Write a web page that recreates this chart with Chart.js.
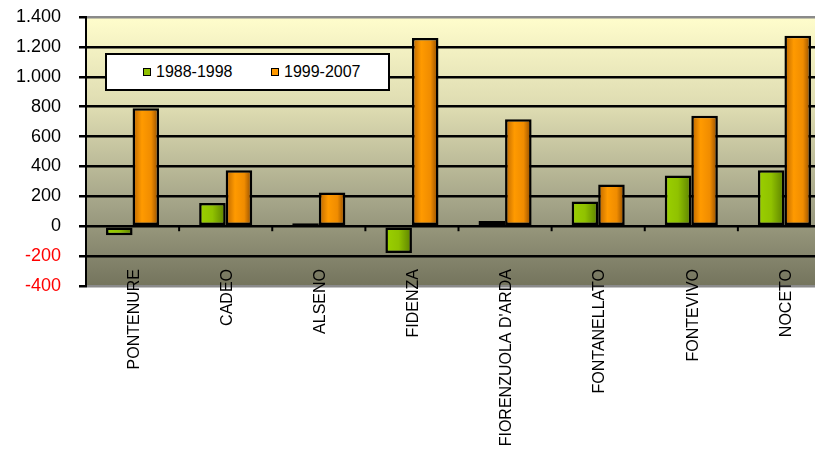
<!DOCTYPE html>
<html>
<head>
<meta charset="utf-8">
<script src="https://cdn.jsdelivr.net/npm/chart.js@4"></script>
<style>
  html, body { margin: 0; padding: 0; background: #fff; overflow: hidden; }
  #wrap { position: relative; width: 831px; height: 452px; }
  #legend {
    position: absolute; left: 105px; top: 53px; width: 281px; height: 34px;
    background: #fff; border: 2px solid #000;
    font: 16px "Liberation Sans", Arial, sans-serif; color: #000;
  }
  #legend span { position: absolute; top: 8px; }
  #legend i { position: absolute; top: 13px; width: 6px; height: 6px; border: 1px solid #000; }
</style>
</head>
<body>
<div id="wrap">
  <canvas id="myChart" width="831" height="452"></canvas>
  <div id="legend">
    <i style="left:36px;background:#8fc000"></i><span style="left:49px">1988-1998</span>
    <i style="left:164px;background:#ff9900"></i><span style="left:177px">1999-2007</span>
  </div>
</div>
<script>
var labels = ["PONTENURE", "CADEO", "ALSENO", "FIDENZA", "FIORENZUOLA D'ARDA", "FONTANELLATO", "FONTEVIVO", "NOCETO"];
var seriesNames = ["1988-1998", "1999-2007"];
var values8898 = [-60, 155, 20, -180, 35, 165, 340, 375];
var values9907 = [790, 375, 225, 1260, 715, 280, 740, 1275];
var yMin = -400, yMax = 1400, yStep = 200;

var CAT_PCT = 0.57;

function fmt(v) {
  var s = Math.abs(v).toString().replace(/\B(?=(\d{3})+(?!\d))/g, '.');
  return (v < 0 ? '-' : '') + s;
}

// horizontal gradient for each bar, placed from the category scale
function barFill(stops) {
  return function (ctx) {
    var chart = ctx.chart, xs = chart.scales.x;
    if (!xs || !chart.chartArea || xs.width === undefined) return stops[1][1];
    var c = xs.getPixelForValue(ctx.dataIndex);
    var w = xs.width / labels.length * CAT_PCT / 2;
    var x0 = ctx.datasetIndex === 0 ? c - w : c;
    var g = chart.ctx.createLinearGradient(x0, 0, x0 + w, 0);
    stops.forEach(function (s) { g.addColorStop(s[0], s[1]); });
    return g;
  };
}

var plotBg = {
  id: 'plotBg',
  beforeDraw: function (chart) {
    var a = chart.chartArea, ctx = chart.ctx;
    var g = ctx.createLinearGradient(0, a.top, 0, a.bottom);
    g.addColorStop(0, '#fffdcc');
    g.addColorStop(0.35, '#dcdab0');
    g.addColorStop(0.7, '#a3a387');
    g.addColorStop(1, '#74745d');
    ctx.save();
    ctx.fillStyle = g;
    ctx.fillRect(a.left, a.top, a.right - a.left, a.bottom - a.top);
    ctx.restore();
  }
};

// small category tick marks on the zero line
var zeroTicks = {
  id: 'zeroTicks',
  afterDatasetsDraw: function (chart) {
    var xs = chart.scales.x, ys = chart.scales.y, ctx = chart.ctx;
    var y0 = ys.getPixelForValue(0);
    ctx.save();
    ctx.strokeStyle = '#000';
    ctx.lineWidth = 2;
    for (var i = 1; i < labels.length; i++) {
      var x = (xs.getPixelForValue(i - 1) + xs.getPixelForValue(i)) / 2;
      ctx.beginPath();
      ctx.moveTo(x, y0);
      ctx.lineTo(x, y0 + 5);
      ctx.stroke();
    }
    ctx.restore();
  }
};

var myChart = document.getElementById("myChart");
var barChart = new Chart(myChart, {
    type: 'bar',
    data: {
        labels: labels,
        datasets: [{
            label: seriesNames[0],
            data: values8898,
            backgroundColor: barFill([[0, '#9bd000'], [0.5, '#90c200'], [1, '#5b7f00']]),
            borderColor: '#000',
            borderWidth: 2.5,
            borderSkipped: false
        }, {
            label: seriesNames[1],
            data: values9907,
            backgroundColor: barFill([[0, '#b86400'], [0.35, '#ff9a00'], [0.7, '#f08c00'], [1, '#8a4800']]),
            borderColor: '#000',
            borderWidth: 2.5,
            borderSkipped: false
        }]
    },
    options: {
        responsive: false,
        animation: false,
        devicePixelRatio: 1,
        datasets: { bar: { categoryPercentage: CAT_PCT, barPercentage: 1 } },
        layout: { padding: { top: 17, left: 0, right: 0, bottom: 0 } },
        plugins: { legend: { display: false }, tooltip: { enabled: false } },
        scales: {
            x: {
                offset: true,
                grid: { display: false, drawTicks: false },
                border: { display: false },
                afterFit: function (s) { s.height = 166; },
                ticks: {
                    autoSkip: false, minRotation: 90, maxRotation: 90,
                    mirror: true, padding: 17, labelOffset: 21,
                    color: '#000',
                    font: { family: '"Liberation Sans", Arial, sans-serif', size: 16 }
                }
            },
            y: {
                min: yMin, max: yMax,
                afterFit: function (s) { s.width = 86; s.paddingTop = 0; s.paddingBottom = 0; },
                border: { display: true, color: '#000', width: 2 },
                grid: {
                    lineWidth: 2.5,
                    tickLength: 7,
                    tickColor: '#000',
                    color: function (c) {
                        var v = c.tick && c.tick.value;
                        return (v === yMax || v === yMin) ? '#8a8a8a' : '#000';
                    }
                },
                ticks: {
                    stepSize: yStep,
                    padding: 18,
                    font: { family: '"Liberation Sans", Arial, sans-serif', size: 18 },
                    color: function (c) { return c.tick.value < 0 ? '#ff0000' : '#000'; },
                    callback: function (v) { return fmt(v); }
                }
            }
        }
    },
    plugins: [plotBg, zeroTicks]
});
</script>
</body>
</html>
